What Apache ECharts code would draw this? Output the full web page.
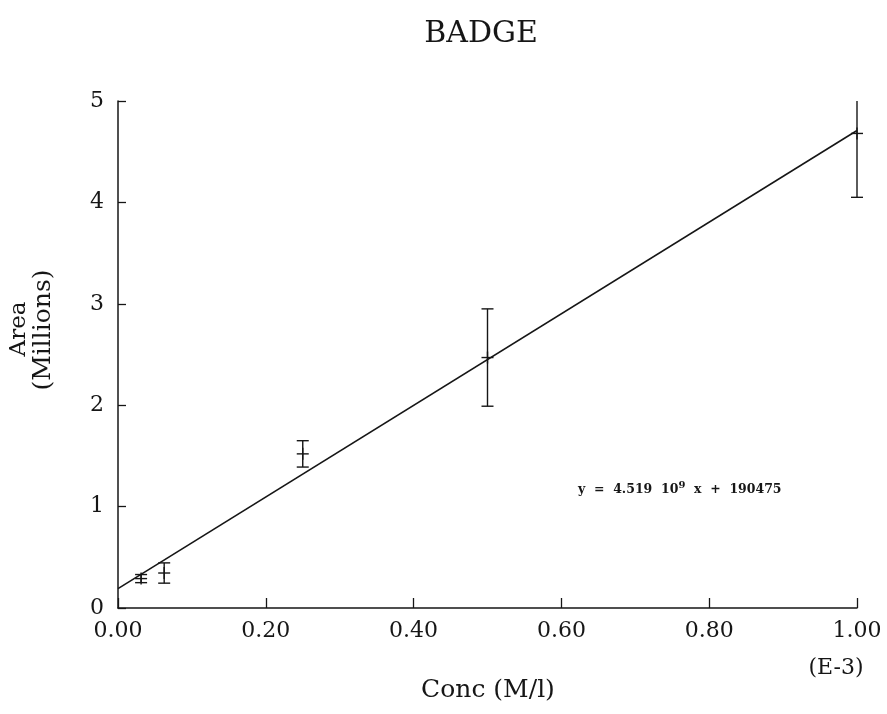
<!DOCTYPE html>
<html>
<head>
<meta charset="utf-8">
<title>BADGE</title>
<script src="https://cdn.jsdelivr.net/npm/echarts@6/dist/echarts.min.js"></script>
<style>
  html, body { margin: 0; padding: 0; background: #ffffff; }
  #chart { width: 887px; height: 714px; }
</style>
</head>
<body>
<div id="chart"></div>
<script>
// Calibration data: concentration in units of 1e-3 M/l, area in millions
const concentrations = [0.03125, 0.0625, 0.25, 0.5, 1.0];
const meanArea = [0.29, 0.345, 1.52, 2.47, 4.68];
const areaError = [0.04, 0.10, 0.13, 0.48, 0.63];

// Least-squares fit as printed on the chart: y = 4.519e9 x + 190475 (x in M/l)
const fitSlope = 4.519;        // millions per 1e-3 M/l
const fitIntercept = 0.190475; // millions
const fitRange = [0, 1.0];

const xTickValues = [0, 0.2, 0.4, 0.6, 0.8, 1.0];
const yTickValues = [0, 1, 2, 3, 4, 5];

const INK = '#161616';
const SERIF = '"DejaVu Serif", "Liberation Serif", serif';

const pointData = concentrations.map((c, i) => [c, meanArea[i], areaError[i]]);
const fitLine = fitRange.map(x => [x, fitSlope * x + fitIntercept]);

const chart = echarts.init(document.getElementById('chart'), null, { renderer: 'canvas' });

function renderErrorCross(params, api) {
  const x = api.value(0), y = api.value(1), e = api.value(2);
  const cs = params.coordSys;
  const top = cs.y, bottom = cs.y + cs.height;
  const c = api.coord([x, y]);
  let hi = api.coord([x, y + e])[1];
  let lo = api.coord([x, y - e])[1];
  const half = 6;
  const style = { stroke: INK, lineWidth: 1.4, fill: null };
  const children = [];
  const hiClipped = hi < top;
  const loClipped = lo > bottom;
  hi = Math.max(hi, top);
  lo = Math.min(lo, bottom);
  // error bar
  children.push({ type: 'line', shape: { x1: c[0], y1: hi, x2: c[0], y2: lo }, style });
  if (!hiClipped) children.push({ type: 'line', shape: { x1: c[0] - half, y1: hi, x2: c[0] + half, y2: hi }, style });
  if (!loClipped) children.push({ type: 'line', shape: { x1: c[0] - half, y1: lo, x2: c[0] + half, y2: lo }, style });
  // "+" marker at the mean
  children.push({ type: 'line', shape: { x1: c[0] - half, y1: c[1], x2: c[0] + half, y2: c[1] }, style });
  children.push({ type: 'line', shape: { x1: c[0], y1: c[1] - half, x2: c[0], y2: c[1] + half }, style });
  return { type: 'group', children };
}

const option = {
  backgroundColor: '#ffffff',
  animation: false,
  grid: { left: 118, right: 30, top: 101, bottom: 106 },
  xAxis: {
    type: 'value',
    min: xTickValues[0],
    max: xTickValues[xTickValues.length - 1],
    interval: 0.2,
    axisLine: { show: true, onZero: false, lineStyle: { color: INK, width: 1.5 } },
    axisTick: { show: true, inside: true, length: 10, lineStyle: { color: INK, width: 1.3 } },
    splitLine: { show: false },
    axisLabel: {
      margin: 12,
      color: INK,
      fontFamily: SERIF,
      fontSize: 22,
      formatter: v => v.toFixed(2)
    }
  },
  yAxis: {
    type: 'value',
    min: yTickValues[0],
    max: yTickValues[yTickValues.length - 1],
    interval: 1,
    axisLine: { show: true, lineStyle: { color: INK, width: 1.5 } },
    axisTick: { show: true, inside: true, length: 8, lineStyle: { color: INK, width: 1.3 } },
    splitLine: { show: false },
    axisLabel: {
      margin: 14,
      color: INK,
      fontFamily: SERIF,
      fontSize: 22
    }
  },
  series: [
    {
      name: 'fit',
      type: 'line',
      data: fitLine,
      symbol: 'none',
      lineStyle: { color: INK, width: 1.6 },
      z: 2
    },
    {
      name: 'measured',
      type: 'custom',
      data: pointData,
      renderItem: renderErrorCross,
      encode: { x: 0, y: 1 },
      z: 3
    }
  ],
  graphic: [
    {
      type: 'text', x: 481, y: 34,
      style: { text: 'BADGE', fill: INK, font: '30px ' + SERIF, textAlign: 'center', textVerticalAlign: 'middle' }
    },
    {
      type: 'text', x: 19, y: 329, rotation: Math.PI / 2,
      style: { text: 'Area', fill: INK, font: '23px ' + SERIF, textAlign: 'center', textVerticalAlign: 'middle' }
    },
    {
      type: 'text', x: 43, y: 330, rotation: Math.PI / 2,
      style: { text: '(Millions)', fill: INK, font: '25px ' + SERIF, textAlign: 'center', textVerticalAlign: 'middle' }
    },
    {
      type: 'text', x: 488, y: 690,
      style: { text: 'Conc (M/l)', fill: INK, font: '25px ' + SERIF, textAlign: 'center', textVerticalAlign: 'middle' }
    },
    {
      type: 'text', x: 836, y: 668,
      style: { text: '(E-3)', fill: INK, font: '22px ' + SERIF, textAlign: 'center', textVerticalAlign: 'middle' }
    },
    {
      type: 'text', x: 578, y: 490,
      style: {
        text: 'y  =  4.519  10{sup|9}  x  +  190475',
        fill: INK,
        font: 'bold 12.5px ' + SERIF,
        textAlign: 'left',
        textVerticalAlign: 'middle',
        rich: {
          sup: { fontSize: 10, fontWeight: 'bold', fontFamily: SERIF, fill: INK, verticalAlign: 'top', padding: [0, 0, 9, 0] }
        }
      }
    }
  ]
};

chart.setOption(option);
</script>
</body>
</html>
